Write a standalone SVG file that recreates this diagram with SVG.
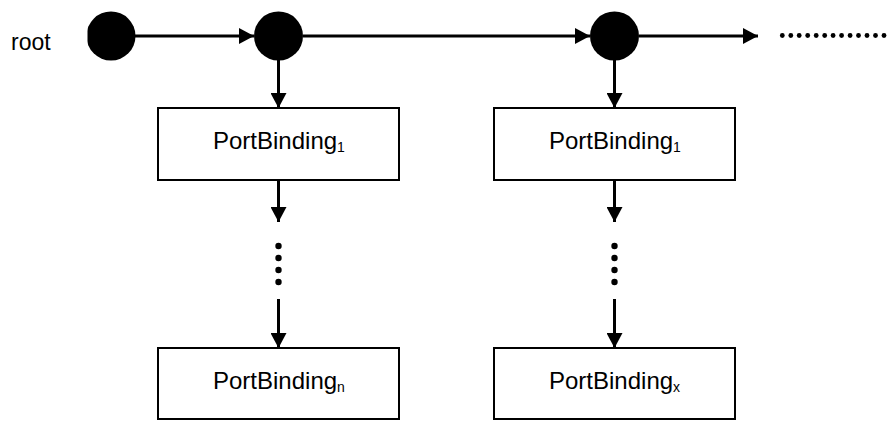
<svg xmlns="http://www.w3.org/2000/svg" width="889" height="421" viewBox="0 0 889 421">
<defs>
<marker id="ah" markerWidth="15" markerHeight="16" refX="15" refY="8" orient="auto" markerUnits="userSpaceOnUse">
<path d="M0,0 L15,8 L0,16 Z" fill="#000"/>
</marker>
<clipPath id="cl"><rect x="87.5" y="0" width="801.5" height="421"/></clipPath>
</defs>
<style>
.t{font-family:"Liberation Sans",Arial,sans-serif;font-size:24px;fill:#000}
.r{font-size:23px}
.s{font-size:14px}
.box{fill:#fff;stroke:#000;stroke-width:2}
.ln{stroke:#000;stroke-width:3;fill:none}
.dot{fill:#000}
</style>
<rect width="889" height="421" fill="#fff"/>
<g id="connectors">
<line class="ln" x1="135" y1="36" x2="254" y2="36" marker-end="url(#ah)"/>
<line class="ln" x1="303" y1="36" x2="590" y2="36" marker-end="url(#ah)"/>
<line class="ln" x1="639" y1="36" x2="758" y2="36" marker-end="url(#ah)"/>
<line class="ln" x1="278.5" y1="60" x2="278.5" y2="108" marker-end="url(#ah)"/>
<line class="ln" x1="614.5" y1="60" x2="614.5" y2="108" marker-end="url(#ah)"/>
<line class="ln" x1="278.5" y1="180" x2="278.5" y2="222" marker-end="url(#ah)"/>
<line class="ln" x1="614.5" y1="180" x2="614.5" y2="222" marker-end="url(#ah)"/>
<line class="ln" x1="278.5" y1="299" x2="278.5" y2="348" marker-end="url(#ah)"/>
<line class="ln" x1="614.5" y1="299" x2="614.5" y2="348" marker-end="url(#ah)"/>
<g class="dot">
<circle cx="278.5" cy="246" r="3.2"/><circle cx="278.5" cy="258" r="3.2"/><circle cx="278.5" cy="270" r="3.2"/><circle cx="278.5" cy="282" r="3.2"/>
<circle cx="614.5" cy="246" r="3.2"/><circle cx="614.5" cy="258" r="3.2"/><circle cx="614.5" cy="270" r="3.2"/><circle cx="614.5" cy="282" r="3.2"/>
<circle cx="782.3" cy="35.5" r="2.4"/><circle cx="790.8" cy="35.5" r="2.4"/><circle cx="799.2" cy="35.5" r="2.4"/><circle cx="807.7" cy="35.5" r="2.4"/><circle cx="816.2" cy="35.5" r="2.4"/><circle cx="824.7" cy="35.5" r="2.4"/><circle cx="833.1" cy="35.5" r="2.4"/><circle cx="841.6" cy="35.5" r="2.4"/><circle cx="850.1" cy="35.5" r="2.4"/><circle cx="858.5" cy="35.5" r="2.4"/><circle cx="867.0" cy="35.5" r="2.4"/><circle cx="875.5" cy="35.5" r="2.4"/><circle cx="884.0" cy="35.5" r="2.4"/>
</g>
</g>
<g id="root-label"><text class="t r" x="11" y="50">root</text></g>
<g id="n0"><circle cx="111" cy="36" r="24.5" fill="#000" clip-path="url(#cl)"/></g>
<g id="n1"><circle cx="278.5" cy="36" r="24.5" fill="#000"/></g>
<g id="n2"><circle cx="614.5" cy="36" r="24.5" fill="#000"/></g>
<g id="pb1a"><rect class="box" x="158" y="108" width="241" height="72"/><text class="t" x="213" y="149">PortBinding<tspan class="s" dy="3">1</tspan></text></g>
<g id="pbn"><rect class="box" x="158" y="348" width="241" height="71"/><text class="t" x="213" y="389">PortBinding<tspan class="s" dy="3">n</tspan></text></g>
<g id="pb1b"><rect class="box" x="494" y="108" width="241" height="72"/><text class="t" x="549" y="149">PortBinding<tspan class="s" dy="3">1</tspan></text></g>
<g id="pbx"><rect class="box" x="494" y="348" width="241" height="71"/><text class="t" x="549" y="389">PortBinding<tspan class="s" dy="3">x</tspan></text></g>
</svg>
